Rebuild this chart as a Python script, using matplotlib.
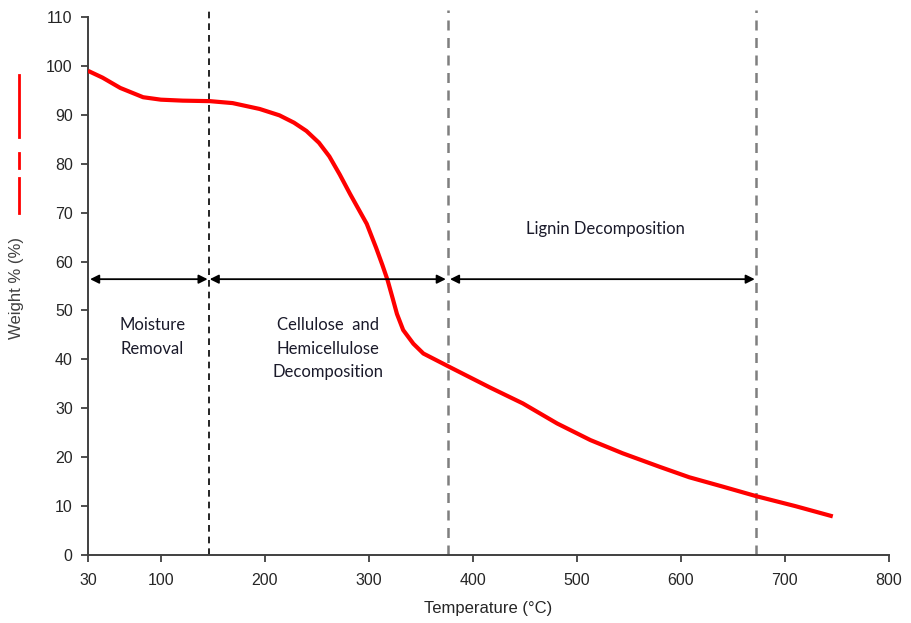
import matplotlib
matplotlib.use("Agg")
import matplotlib.pyplot as plt
from matplotlib.lines import Line2D

# TGA curve
temp = [30, 44, 61, 83, 100, 121, 147, 169, 195, 214, 228, 240, 252, 262, 272,
        282, 298, 307, 313, 318, 323, 327, 333, 342.8, 352.4, 365.2, 378, 416,
        448, 481, 513, 544, 580, 608, 640, 673, 710, 746]
weight = [99, 97.6, 95.5, 93.6, 93.1, 92.9, 92.8, 92.4, 91.2, 89.9, 88.4, 86.7,
          84.3, 81.5, 77.8, 73.8, 67.7, 62.8, 59.3, 56.2, 52.4, 49.3, 46.0,
          43.2, 41.2, 39.8, 38.4, 34.3, 31.0, 26.9, 23.5, 20.8, 18.0, 15.9,
          14.0, 12.0, 10.0, 7.9]

boundaries = [146, 376, 672]
x_ticks = [30, 100, 200, 300, 400, 500, 600, 700, 800]
y_ticks = list(range(0, 111, 10))

plt.rcParams['font.family'] = ['Liberation Sans', 'DejaVu Sans']

fig = plt.figure(figsize=(9.11, 6.23), dpi=100)
ax = fig.add_axes([0.0966, 0.1091, 0.8792, 0.8636])

ax.plot(temp, weight, color='#ff0000', lw=3, solid_joinstyle='round',
        solid_capstyle='butt', zorder=3)

# region boundaries
ax.vlines(boundaries[0], 0, 111.5, colors='black', linestyles=(0, (4, 3)),
          lw=1.2, clip_on=False, zorder=2)
ax.vlines(boundaries[1:], 0, 111.5, colors='#7f7f7f', linestyles=(0, (4, 3)),
          lw=1.8, clip_on=False, zorder=2)

# double-headed arrows
arrow_y = 56.4
spans = [(32, boundaries[0] - 1), (boundaries[0] + 1, boundaries[1] - 2),
         (boundaries[1] + 2, boundaries[2] - 1)]
for a, b in spans:
    ax.annotate('', xy=(b, arrow_y), xytext=(a, arrow_y),
                arrowprops=dict(arrowstyle='<|-|>', color='black', lw=1.3,
                                mutation_scale=13, shrinkA=0, shrinkB=0))

txt_font = dict(family=['Lato', 'DejaVu Sans'], fontsize=12, color='#1a1a2a',
                ha='center', va='center', linespacing=1.6)
ax.text(92, 44.6, 'Moisture\nRemoval', **txt_font)
ax.text(261, 42.2, 'Cellulose  and\nHemicellulose\nDecomposition', **txt_font)
ax.text(527, 66.7, 'Lignin Decomposition', **txt_font)

ax.set_xlim(30, 800)
ax.set_ylim(0, 110)
ax.set_xticks(x_ticks)
ax.set_yticks(y_ticks)
ax.tick_params(axis='both', direction='out', length=5, width=1.3,
               color='#404040', labelsize=11.5, labelcolor='#262626')
ax.tick_params(axis='x', pad=8)
ax.tick_params(axis='y', pad=6)
for side in ['top', 'right']:
    ax.spines[side].set_visible(False)
for side in ['left', 'bottom']:
    ax.spines[side].set_color('#404040')
    ax.spines[side].set_linewidth(1.4)

ax.set_xlabel('Temperature (\u00b0C)', fontsize=12, color='#262626', labelpad=9)
fig.text(17 / 911, 1 - 288 / 623.0, 'Weight % (%)', rotation=90, fontsize=12,
         color='#404040', ha='center', va='center')

# stray legend marks next to the y label
H = 623.0
px = 19 / 911.0
for y0, y1 in [(75, 137), (153, 168), (178, 213)]:
    fig.add_artist(Line2D([px, px], [1 - y0 / H, 1 - y1 / H], color='#ff0000',
                          lw=2, transform=fig.transFigure))

fig.savefig('out.png', dpi=100)
